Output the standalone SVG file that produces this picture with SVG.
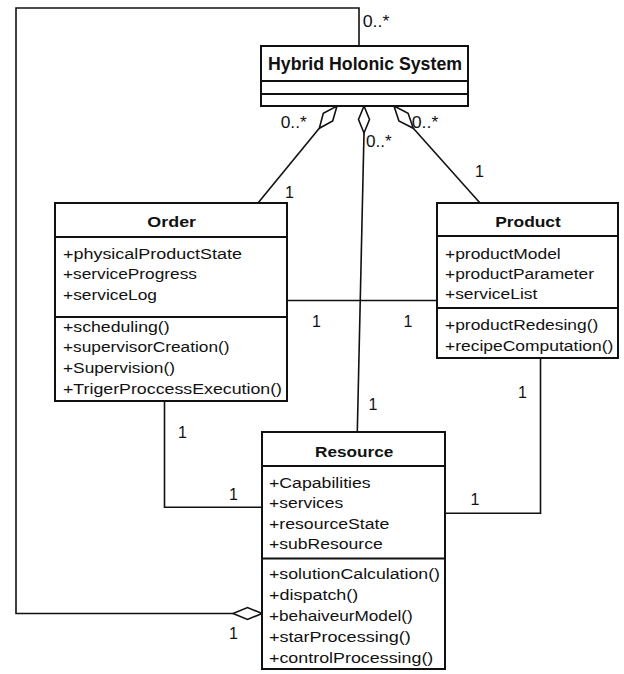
<svg xmlns="http://www.w3.org/2000/svg" width="624" height="674" viewBox="0 0 624 674">
<style>
.box{fill:#fff;stroke:#111;stroke-width:2}
.div{stroke:#111;stroke-width:2}
.ln{fill:none;stroke:#111;stroke-width:1.6}
.dia{fill:#fff;stroke:#111;stroke-width:1.6}
text{font-family:"Liberation Sans",Arial,sans-serif;fill:#111}
.t{font-size:15.5px;font-weight:bold}
.a{font-size:15.5px}
.m{font-size:16px}
.big{font-size:17.5px;font-weight:bold}
</style>
<rect width="624" height="674" fill="#fff"/>
<g id="connectors">
  <polyline class="ln" points="233,613.5 16,613.5 16,8 359,8 359,46"/>
  <polygon class="dia" points="262,613.5 247.5,607.5 233,613.5 247.5,619.5"/>
  <line class="ln" x1="319.3" y1="128.3" x2="258" y2="203"/>
  <polygon class="dia" points="337,106 332.7,120.9 319.3,128.3 323.3,113.4"/>
  <line class="ln" x1="364" y1="133" x2="357.3" y2="432"/>
  <polygon class="dia" points="364,106 369.5,119.5 364,133 358.5,119.5"/>
  <line class="ln" x1="413.3" y1="128.3" x2="480" y2="203"/>
  <polygon class="dia" points="394,106 408.1,113.3 413.3,128.3 398.9,121"/>
  <line class="ln" x1="287" y1="300.5" x2="437" y2="300.5"/>
  <polyline class="ln" points="164.5,401 164.5,507.3 262,507.3"/>
  <polyline class="ln" points="540.5,358 540.5,513.3 445,513.3"/>
  <text class="m" x="362.7" y="26.7" textLength="26.7" lengthAdjust="spacingAndGlyphs">0..*</text>
  <text class="m" x="280.7" y="128.3" textLength="26" lengthAdjust="spacingAndGlyphs">0..*</text>
  <text class="m" x="366" y="146.7" textLength="25.7" lengthAdjust="spacingAndGlyphs">0..*</text>
  <text class="m" x="411.7" y="128.3" textLength="26.6" lengthAdjust="spacingAndGlyphs">0..*</text>
  <text class="m" x="285" y="198.3">1</text>
  <text class="m" x="475" y="176.7">1</text>
  <text class="m" x="312" y="326.7">1</text>
  <text class="m" x="403.5" y="326.7">1</text>
  <text class="m" x="368.5" y="410">1</text>
  <text class="m" x="178" y="438.3">1</text>
  <text class="m" x="229" y="500">1</text>
  <text class="m" x="470.5" y="505">1</text>
  <text class="m" x="518" y="398">1</text>
  <text class="m" x="229" y="639.3">1</text>
</g>
<g id="hybrid-holonic-system">
  <rect class="box" x="261" y="46" width="207" height="60"/>
  <line class="div" x1="261" y1="81" x2="468" y2="81"/>
  <line class="div" x1="261" y1="94" x2="468" y2="94"/>
  <text class="big" x="365" y="69.5" text-anchor="middle" textLength="194" lengthAdjust="spacingAndGlyphs">Hybrid Holonic System</text>
</g>
<g id="order">
  <rect class="box" x="55" y="203" width="232" height="198"/>
  <line class="div" x1="55" y1="237" x2="287" y2="237"/>
  <line class="div" x1="55" y1="317" x2="287" y2="317"/>
  <text class="t" x="171.7" y="227.3" text-anchor="middle" textLength="48.7" lengthAdjust="spacingAndGlyphs">Order</text>
  <text class="a" x="63" y="259" textLength="179" lengthAdjust="spacingAndGlyphs">+physicalProductState</text>
  <text class="a" x="63" y="279.3" textLength="134" lengthAdjust="spacingAndGlyphs">+serviceProgress</text>
  <text class="a" x="63" y="300" textLength="94" lengthAdjust="spacingAndGlyphs">+serviceLog</text>
  <text class="a" x="63" y="331.7" textLength="106.6" lengthAdjust="spacingAndGlyphs">+scheduling()</text>
  <text class="a" x="63" y="352.3" textLength="166.6" lengthAdjust="spacingAndGlyphs">+supervisorCreation()</text>
  <text class="a" x="63" y="373.3" textLength="112" lengthAdjust="spacingAndGlyphs">+Supervision()</text>
  <text class="a" x="63" y="394" textLength="219" lengthAdjust="spacingAndGlyphs">+TrigerProccessExecution()</text>
</g>
<g id="product">
  <rect class="box" x="437" y="203" width="181" height="155"/>
  <line class="div" x1="437" y1="236" x2="618" y2="236"/>
  <line class="div" x1="437" y1="308" x2="618" y2="308"/>
  <text class="t" x="528" y="227.3" text-anchor="middle" textLength="65.7" lengthAdjust="spacingAndGlyphs">Product</text>
  <text class="a" x="445" y="259" textLength="115.7" lengthAdjust="spacingAndGlyphs">+productModel</text>
  <text class="a" x="445" y="279.3" textLength="149" lengthAdjust="spacingAndGlyphs">+productParameter</text>
  <text class="a" x="445" y="299.3" textLength="92.3" lengthAdjust="spacingAndGlyphs">+serviceList</text>
  <text class="a" x="445" y="330" textLength="153.3" lengthAdjust="spacingAndGlyphs">+productRedesing()</text>
  <text class="a" x="445" y="350.7" textLength="168.3" lengthAdjust="spacingAndGlyphs">+recipeComputation()</text>
</g>
<g id="resource">
  <rect class="box" x="262" y="432" width="183" height="237"/>
  <line class="div" x1="262" y1="466" x2="445" y2="466"/>
  <line class="div" x1="262" y1="558.5" x2="445" y2="558.5"/>
  <text class="t" x="354.2" y="456.7" text-anchor="middle" textLength="78.3" lengthAdjust="spacingAndGlyphs">Resource</text>
  <text class="a" x="269" y="488.3" textLength="101.7" lengthAdjust="spacingAndGlyphs">+Capabilities</text>
  <text class="a" x="269" y="508.3" textLength="74.3" lengthAdjust="spacingAndGlyphs">+services</text>
  <text class="a" x="269" y="529.3" textLength="120.3" lengthAdjust="spacingAndGlyphs">+resourceState</text>
  <text class="a" x="269" y="549.3" textLength="113.7" lengthAdjust="spacingAndGlyphs">+subResource</text>
  <text class="a" x="269" y="579.3" textLength="171" lengthAdjust="spacingAndGlyphs">+solutionCalculation()</text>
  <text class="a" x="269" y="600" textLength="89.3" lengthAdjust="spacingAndGlyphs">+dispatch()</text>
  <text class="a" x="269" y="621" textLength="143.7" lengthAdjust="spacingAndGlyphs">+behaiveurModel()</text>
  <text class="a" x="269" y="641.7" textLength="141.7" lengthAdjust="spacingAndGlyphs">+starProcessing()</text>
  <text class="a" x="269" y="662.7" textLength="164.3" lengthAdjust="spacingAndGlyphs">+controlProcessing()</text>
</g>
</svg>
